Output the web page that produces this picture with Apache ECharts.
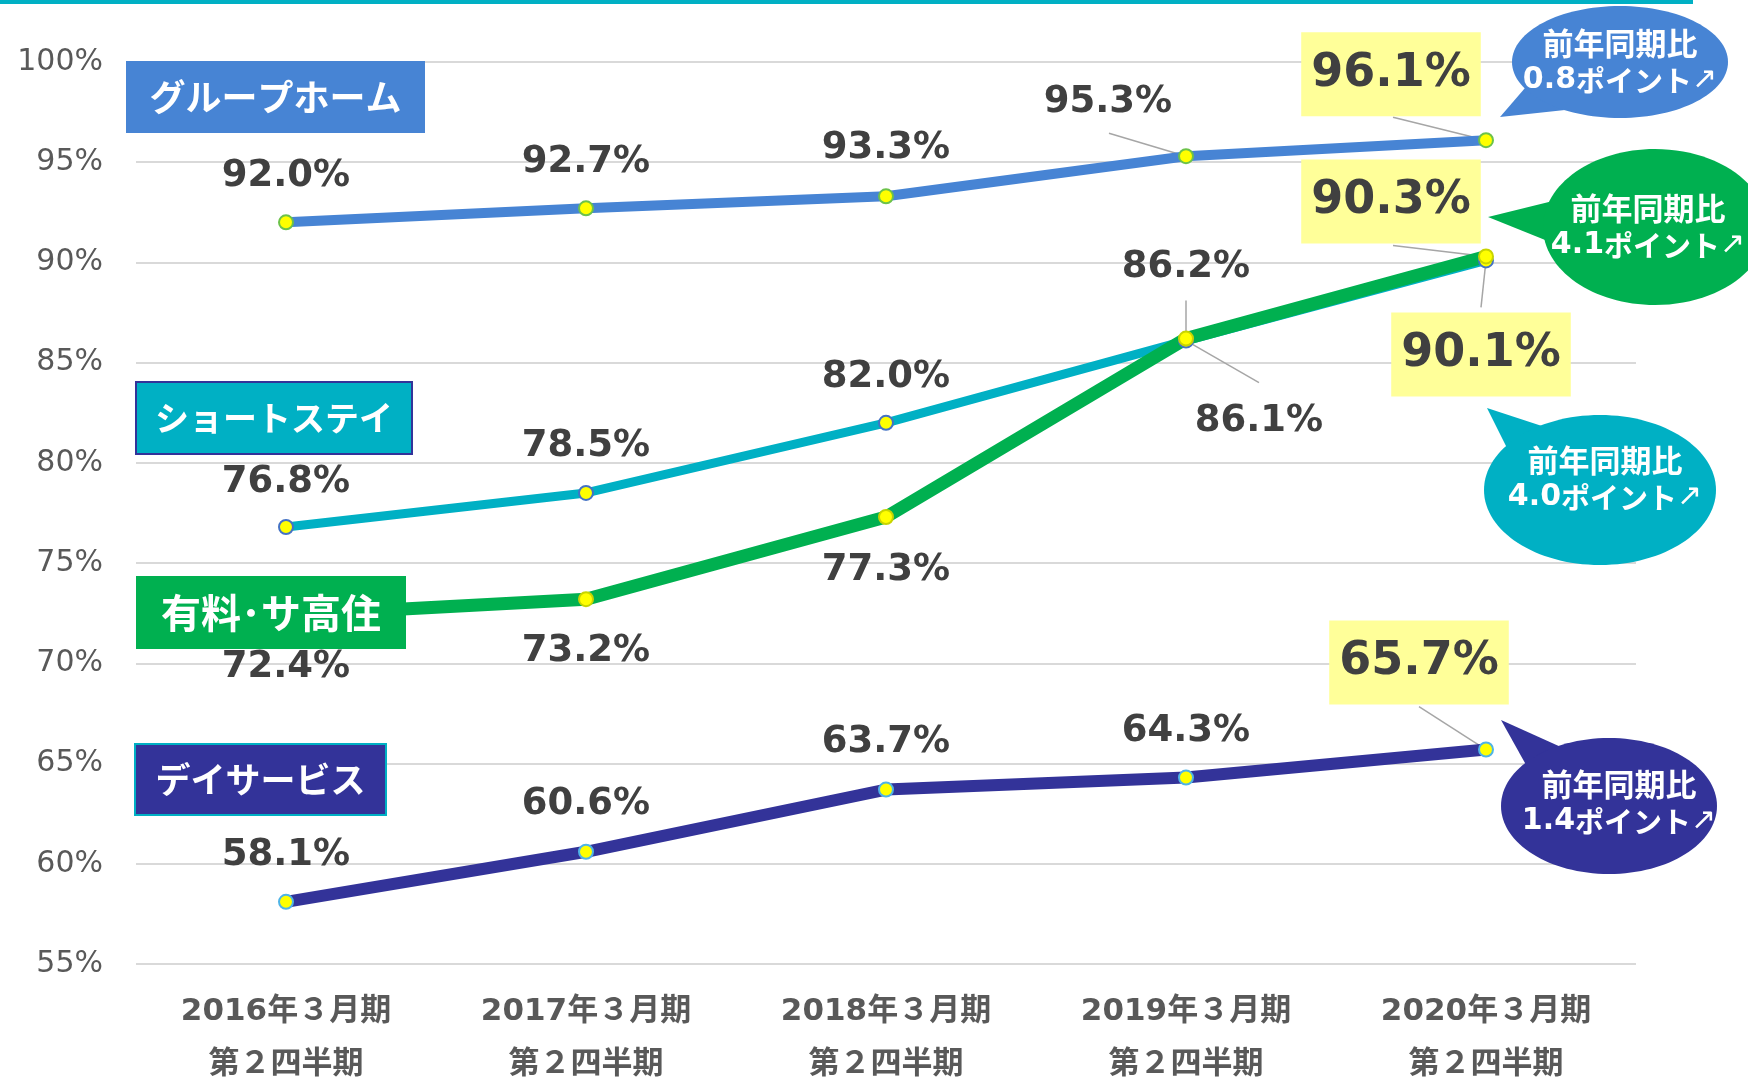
<!DOCTYPE html>
<html>
<head>
<meta charset="utf-8">
<script src="https://cdn.jsdelivr.net/npm/echarts@6/dist/echarts.min.js"></script>
<style>
  html, body { margin: 0; padding: 0; background: #fff; }
  #chart { width: 1748px; height: 1081px; }
</style>
</head>
<body>
<div id="chart"></div>
<script>
// 期（カテゴリ）
const categories = [
  '2016年３月期\n第２四半期',
  '2017年３月期\n第２四半期',
  '2018年３月期\n第２四半期',
  '2019年３月期\n第２四半期',
  '2020年３月期\n第２四半期'
]
// 稼働率（%）
const groupHome  = [92.0, 92.7, 93.3, 95.3, 96.1]
const shortStay  = [76.8, 78.5, 82.0, 86.1, 90.1]
const yuryo      = [72.4, 73.2, 77.3, 86.2, 90.3]
const dayService = [58.1, 60.6, 63.7, 64.3, 65.7]
// 系列名・前年同期比（ポイント）
const seriesNames = ['グループホーム', 'ショートステイ', '有料･サ高住', 'デイサービス']
const yoyPoints = ['0.8', '4.1', '4.0', '1.4']

const BLUE = '#4784D4', TEAL = '#00B0C4', GREEN = '#00B050', NAVY = '#333399'
const NUM_FONT = '"DejaVu Sans", "Noto Sans CJK JP"'
const JP_FONT = '"Noto Sans CJK JP", sans-serif'

// ラベル位置（点からのずれ）、最後の点は黄色ボックス
let offsets = {
  gh: [[0, -46], [0, -46], [0, -48], [-78, -54], [-95, -66]],
  ss: [[0, -45], [0, -47], [0, -45], [73, 81], [-5, 94]],
  yr: [[0, 52], [0, 52], [0, 53], [0, -71], [-95, -55]],
  ds: [[0, -46], [0, -47], [0, -47], [0, -46], [-67, -87]]
}
// 引き出し線（系列番号, 点番号, ラベル側の端点のずれ）
let leaderStarts = [
  { s: 0, i: 3, d: [-77, -23] },
  { s: 0, i: 4, d: [-93, -23] },
  { s: 1, i: 3, d: [73, 42] },
  { s: 1, i: 4, d: [-5, 47] },
  { s: 2, i: 3, d: [0, -38] },
  { s: 2, i: 4, d: [-93, -11] },
  { s: 3, i: 4, d: [-67, -43] }
]
const seriesValues = [groupHome, shortStay, yuryo, dayService]

function buildData(values, key) {
  return values.map((v, i) => {
    let big = i === values.length - 1
    return {
      value: v,
      label: {
        offset: offsets[key][i],
        fontSize: big ? 46 : 37,
        lineHeight: big ? 50 : 40,
        backgroundColor: big ? '#FFFF99' : 'transparent',
        padding: big ? [17, 10] : 0
      }
    }
  })
}

function lineSeries(name, values, key, color, width, markerBorder) {
  return {
    name, type: 'line',
    data: buildData(values, key),
    symbol: 'circle', symbolSize: 14,
    lineStyle: { color, width },
    itemStyle: { color: '#FFFF00', borderColor: markerBorder, borderWidth: 2 },
    label: {
      show: true, position: 'inside',
      formatter: p => p.value.toFixed(1) + '%',
      color: '#404040', fontWeight: 'bold', fontFamily: NUM_FONT
    }
  }
}

// 左の系列名ボックス
function nameBox(text, x, y, w, h, fill, stroke, fontSize) {
  return [
    { type: 'rect', z: 100, shape: { x, y, width: w, height: h },
      style: { fill, stroke: stroke || null, lineWidth: stroke ? 2 : 0 } },
    { type: 'text', z: 101, x: x + w / 2, y: y + h / 2,
      style: { text, fill: '#fff', align: 'center', verticalAlign: 'middle',
               font: 'bold ' + fontSize + 'px ' + JP_FONT } }
  ]
}

// 右の吹き出し
function bubble(pt, cx, cy, rx, ry, tail, fill, tx, ty) {
  return [
    { type: 'polygon', z: 100, shape: { points: tail }, style: { fill } },
    { type: 'ellipse', z: 100, shape: { cx, cy, rx, ry }, style: { fill } },
    { type: 'text', z: 101, x: tx, y: ty,
      style: {
        text: '{a|前年同期比}\n{b|' + pt + '}{c|ポイント}{d|↗}',
        fill: '#fff', align: 'center', verticalAlign: 'middle',
        rich: {
          a: { font: 'bold 31px ' + JP_FONT, fill: '#fff', lineHeight: 37 },
          b: { font: 'bold 30px ' + NUM_FONT, fill: '#fff', lineHeight: 37 },
          c: { font: 'bold 29px ' + JP_FONT, fill: '#fff', lineHeight: 37 },
          d: { font: '30px "DejaVu Sans"', fill: '#fff', lineHeight: 37 }
        }
      } }
  ]
}

const staticGraphics = [
  { type: 'rect', z: 100, shape: { x: 0, y: 0, width: 1693, height: 4 }, style: { fill: TEAL } },
  ...nameBox(seriesNames[0], 126, 61, 299, 72, BLUE, null, 36),
  ...nameBox(seriesNames[1], 136, 382, 276, 72, TEAL, NAVY, 34),
  ...nameBox(seriesNames[2], 136, 576, 270, 73, GREEN, null, 40),
  ...nameBox(seriesNames[3], 135, 744, 251, 71, NAVY, TEAL, 35),
  ...bubble(yoyPoints[0], 1620, 62, 108, 56, [[1500, 117], [1525, 88], [1565, 110]], BLUE, 1620, 62),
  ...bubble(yoyPoints[1], 1655, 227, 112, 78, [[1488, 217], [1565, 198], [1565, 248]], GREEN, 1648, 227),
  ...bubble(yoyPoints[2], 1600, 490, 116, 75, [[1487, 408], [1548, 428], [1512, 458]], TEAL, 1605, 479),
  ...bubble(yoyPoints[3], 1609, 806, 108, 68, [[1501, 720], [1572, 752], [1530, 772]], NAVY, 1619, 803)
]

const chart = echarts.init(document.getElementById('chart'))

chart.setOption({
  animation: false,
  grid: { left: 136, right: 112, top: 62, bottom: 117, containLabel: false, outerBoundsMode: 'none' },
  xAxis: {
    type: 'category', data: categories, boundaryGap: true,
    axisLine: { show: false }, axisTick: { show: false },
    axisLabel: { margin: 21, color: '#595959', fontSize: 31, fontWeight: 'bold',
                 lineHeight: 53, fontFamily: NUM_FONT, interval: 0 }
  },
  yAxis: {
    type: 'value', min: 55, max: 100, interval: 5,
    axisLine: { show: false }, axisTick: { show: false },
    axisLabel: { formatter: '{value}%', margin: 33, color: '#595959', fontSize: 30, fontFamily: NUM_FONT },
    splitLine: { show: true, lineStyle: { color: '#D9D9D9', width: 2 } }
  },
  series: [
    lineSeries(seriesNames[0], groupHome, 'gh', BLUE, 10, '#6CC24A'),
    lineSeries(seriesNames[1], shortStay, 'ss', TEAL, 9, '#4472C4'),
    lineSeries(seriesNames[2], yuryo, 'yr', GREEN, 13, '#C8D400'),
    lineSeries(seriesNames[3], dayService, 'ds', NAVY, 12, '#4FB4E6')
  ],
  graphic: staticGraphics
})

// 引き出し線は軸のスケールから点の位置を求めて描く
let leaders = leaderStarts.map(l => {
  let p = chart.convertToPixel({ xAxisIndex: 0, yAxisIndex: 0 }, [l.i, seriesValues[l.s][l.i]])
  return {
    type: 'line', z: 3,
    shape: { x1: p[0] + l.d[0], y1: p[1] + l.d[1], x2: p[0], y2: p[1] },
    style: { stroke: '#A6A6A6', lineWidth: 1.5 }
  }
})
chart.setOption({ graphic: staticGraphics.concat(leaders) })
</script>
</body>
</html>
